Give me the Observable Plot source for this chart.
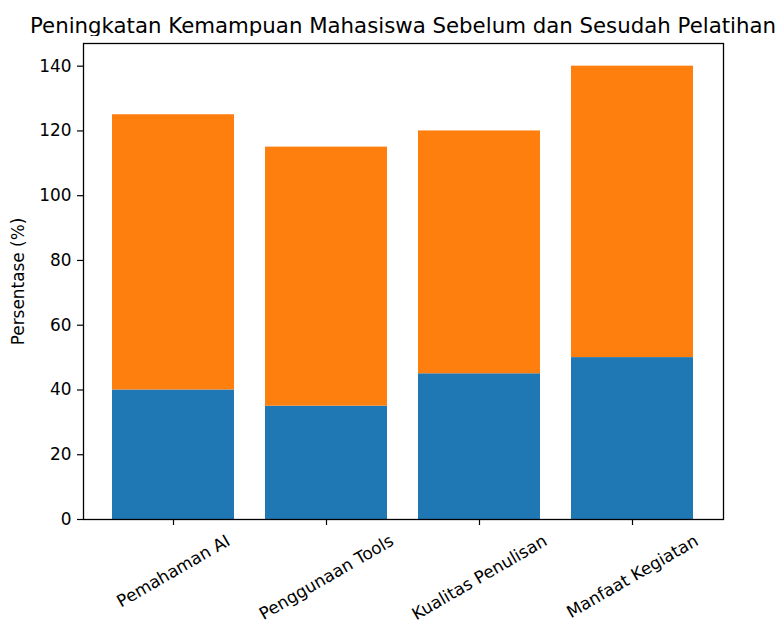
<!DOCTYPE html>
<html>
<head>
<meta charset="utf-8">
<script src="https://cdn.jsdelivr.net/npm/d3@7"></script>
<script src="https://cdn.jsdelivr.net/npm/@observablehq/plot@0.6"></script>
<style>
  html, body { margin: 0; padding: 0; background: #fff; }
  #wrap { position: relative; width: 779px; height: 623px; font-family: "DejaVu Sans", sans-serif; }
  #title { position: absolute; left: 403px; top: 15px; transform: translateX(-50%); white-space: nowrap; font-size: 21.3px; line-height: 21.3px; color: #000; }
  #chart { position: absolute; left: 0; top: 36px; }
</style>
</head>
<body>
<div id="wrap">
  <div id="title">Peningkatan Kemampuan Mahasiswa Sebelum dan Sesudah Pelatihan</div>
  <div id="chart"></div>
</div>
<script>
const categories = ["Pemahaman AI", "Penggunaan Tools", "Kualitas Penulisan", "Manfaat Kegiatan"];
const sebelum = [40, 35, 45, 50];
const sesudah = [85, 80, 75, 90];
const seriesNames = ["Sebelum", "Sesudah"];
const seriesColors = ["#1f77b4", "#ff7f0e"];
const yTicks = [0, 20, 40, 60, 80, 100, 120, 140];
const yLabel = "Persentase (%)";

const rows = [];
categories.forEach((c, i) => {
  rows.push({category: c, series: seriesNames[0], value: sebelum[i]});
  rows.push({category: c, series: seriesNames[1], value: sesudah[i]});
});

const fontSize = 16.9;
const xFontSize = 16.9;
const ctx = document.createElement("canvas").getContext("2d");
ctx.font = `${xFontSize}px "DejaVu Sans"`;
const labelMarks = categories.map(c => {
  const w = ctx.measureText(c).width;
  const h = w * Math.sin(Math.PI / 6) + xFontSize * 1.164 * Math.cos(Math.PI / 6);
  return Plot.text([c], {
    x: d => d, frameAnchor: "bottom", text: d => d,
    rotate: -30, textAnchor: "middle", lineAnchor: "middle",
    dy: 11.5 + h / 2, fill: "black", fontSize: xFontSize
  });
});

const chart = Plot.plot({
  width: 779,
  height: 587,
  marginLeft: 83,
  marginRight: 56,
  marginTop: 7,
  marginBottom: 104,
  style: {fontFamily: "DejaVu Sans", fontSize: fontSize + "px", color: "black", background: "white", overflow: "visible"},
  x: {domain: categories, paddingInner: 0.2, paddingOuter: 0.19, align: 0.5, label: null},
  y: {domain: [0, 147], label: null},
  color: {domain: seriesNames, range: seriesColors},
  marks: [
    Plot.barY(rows, {x: "category", y: "value", fill: "series", order: seriesNames}),
    Plot.frame({stroke: "black", strokeWidth: 1.3}),
    Plot.axisY({ticks: yTicks, tickSize: 6, tickPadding: 6, label: null, stroke: "black", strokeWidth: 1.2}),
    Plot.axisX({tickSize: 6, tickFormat: () => "", label: null, stroke: "black", strokeWidth: 1.2}),
    ...labelMarks,
    Plot.text([yLabel], {frameAnchor: "left", text: d => d, rotate: -90, dx: -64.5, textAnchor: "middle", lineAnchor: "middle", fill: "black"})
  ]
});
document.getElementById("chart").appendChild(chart);
</script>
</body>
</html>
